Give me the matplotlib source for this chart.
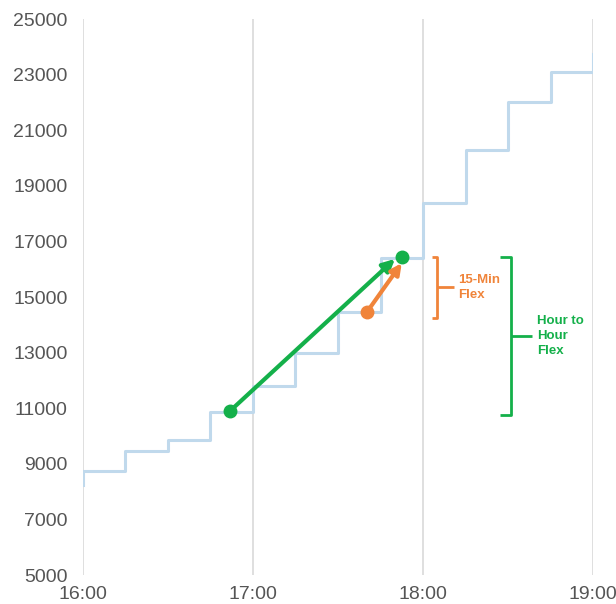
import matplotlib.pyplot as plt
from matplotlib.ticker import FixedLocator, FuncFormatter

plt.rcParams['font.family'] = ['Liberation Sans', 'DejaVu Sans']

# Load steps, 15-minute blocks (hours after midnight)
step_times = [16.0, 16.0, 16.25, 16.5, 16.75, 17.0, 17.25, 17.5, 17.75,
              18.0, 18.25, 18.5, 18.75, 19.0]
step_loads = [8250, 8750, 9450, 9850, 10850, 11800, 13000, 14450, 16400,
              18400, 20300, 22000, 23100, 23750]

# Flex arrows: (time, load) start and end
hour_start = (16.865, 10900)
hour_end = (17.875, 16450)
hour_tip = (17.835, 16370)
min15_start = (17.669, 14450)
min15_tip = (17.875, 16220)

# Bracket spans
min15_span = (14250, 16450)
hour_span = (10750, 16450)

hour_ticks = [16, 17, 18, 19]
load_ticks = [5000, 7000, 9000, 11000, 13000, 15000, 17000, 19000, 21000,
              23000, 25000]

BLUE = '#c0d9ec'
GREEN = '#14b04a'
ORANGE = '#f0843a'
GRID = '#dcdcdc'
LABEL = '#555555'

fig = plt.figure(figsize=(6.16, 6.04), dpi=100)
ax = fig.add_axes([0.1347, 0.048, 0.828, 0.9205])

for h in hour_ticks:
    ax.axvline(h, color=GRID, lw=1.3, zorder=0)

ax.step(step_times, step_loads, where='post', color=BLUE, lw=2.2, zorder=1)

# Hour-to-hour flex arrow
ax.annotate('', xy=hour_tip, xytext=hour_start,
            arrowprops=dict(arrowstyle='-|>', color=GREEN, lw=3,
                            mutation_scale=18, shrinkA=0, shrinkB=0),
            zorder=3)
ax.plot(*zip(hour_start, hour_end), 'o', color=GREEN, ms=9, zorder=4)

# 15-minute flex arrow
ax.annotate('', xy=min15_tip, xytext=min15_start,
            arrowprops=dict(arrowstyle='-|>', color=ORANGE, lw=3,
                            mutation_scale=16, shrinkA=0, shrinkB=0),
            zorder=3)
ax.plot(*min15_start, 'o', color=ORANGE, ms=9, zorder=4)


def bracket(x, x_end, x_tick, lo, hi, color):
    mid = (lo + hi) / 2
    ax.plot([x_end, x, x, x_end], [hi, hi, lo, lo], color=color, lw=2,
            solid_joinstyle='round', solid_capstyle='butt')
    ax.plot([x, x_tick], [mid, mid], color=color, lw=2, solid_capstyle='butt')
    return mid


mid = bracket(18.082, 18.05, 18.182, *min15_span, ORANGE)
ax.text(18.206, mid, '15-Min\nFlex', color=ORANGE, fontsize=9.5,
        fontweight='bold', va='center', ha='left', linespacing=1.35)

mid = bracket(18.518, 18.452, 18.639, *hour_span, GREEN)
ax.text(18.671, mid, 'Hour to\nHour\nFlex', color=GREEN, fontsize=9.5,
        fontweight='bold', va='center', ha='left', linespacing=1.35)

ax.set_xlim(16, 19)
ax.set_ylim(5000, 25000)
ax.xaxis.set_major_locator(FixedLocator(hour_ticks))
ax.xaxis.set_major_formatter(FuncFormatter(lambda v, p: f'{int(v)}:00'))
ax.yaxis.set_major_locator(FixedLocator(load_ticks))
ax.tick_params(length=0, labelsize=14, colors=LABEL)
ax.tick_params(axis='y', pad=11)
ax.tick_params(axis='x', pad=8)
for s in ax.spines.values():
    s.set_visible(False)

fig.savefig('out.png', dpi=100)
